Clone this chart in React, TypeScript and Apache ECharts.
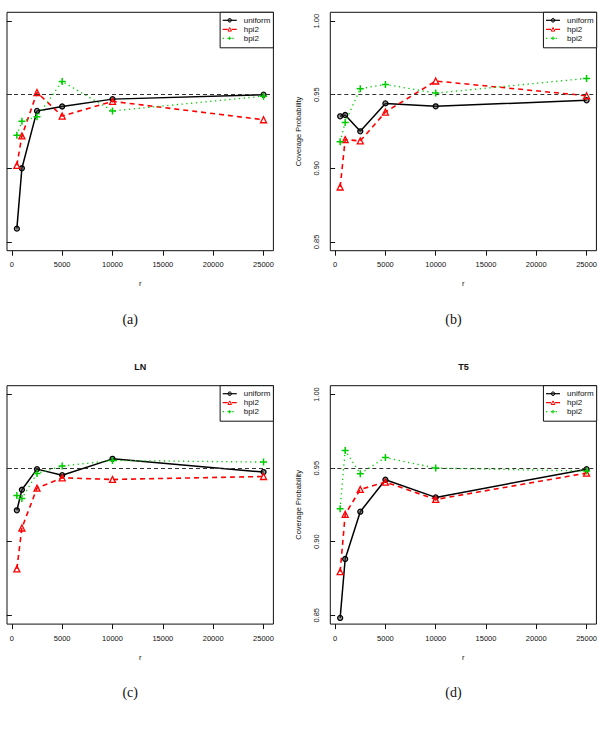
import React, { useEffect, useRef } from "react";
import * as echarts from "echarts";

// ---- data ----
const sampleSizes = [500, 1000, 2500, 5000, 10000, 25000];
const xTicks = [0, 5000, 10000, 15000, 20000, 25000];
const yTicks = [0.85, 0.9, 0.95, 1.0];
const seriesNames = ["uniform", "hpi2", "bpi2"];
const panelTitles = ["", "", "LN", "T5"];
const panelTags = ["(a)", "(b)", "(c)", "(d)"];
const nominalLevel = 0.95;

// panel (a)
const uniformA = [0.859, 0.9, 0.939, 0.942, 0.947, 0.95];
const hpi2A = [0.902, 0.922, 0.9515, 0.9355, 0.9455, 0.933];
const bpi2A = [0.9225, 0.932, 0.935, 0.959, 0.939, 0.949];
// panel (b)
const uniformB = [0.9353, 0.9362, 0.9251, 0.9441, 0.9421, 0.9462];
const hpi2B = [0.8873, 0.9195, 0.9186, 0.9382, 0.9593, 0.9493];
const bpi2B = [0.9181, 0.9312, 0.9541, 0.957, 0.9511, 0.9611];
// panel (c) LN
const uniformC = [0.9213, 0.9353, 0.9493, 0.9452, 0.9563, 0.9473];
const hpi2C = [0.8815, 0.9093, 0.9364, 0.9434, 0.9423, 0.9443];
const bpi2C = [0.9314, 0.9294, 0.9464, 0.9514, 0.9552, 0.9541];
// panel (d) T5
const uniformD = [0.8482, 0.8882, 0.9204, 0.9421, 0.9301, 0.9493];
const hpi2D = [0.8796, 0.9186, 0.9355, 0.9405, 0.9287, 0.9466];
const bpi2D = [0.9224, 0.962, 0.9462, 0.9572, 0.95, 0.948];

const panelData = [
  [uniformA, hpi2A, bpi2A],
  [uniformB, hpi2B, bpi2B],
  [uniformC, hpi2C, bpi2C],
  [uniformD, hpi2D, bpi2D],
];

// ---- layout ----
const W = 266.4;
const H = 238.4;
const gridPos = [
  { left: 7, top: 12.3 },
  { left: 330.3, top: 12.3 },
  { left: 7, top: 385.7 },
  { left: 330.3, top: 385.7 },
];
const FONT = "Liberation Sans, Arial, sans-serif";
const GREEN = "#00cd00";

export default function App() {
  const ref = useRef<HTMLDivElement>(null);
  useEffect(() => {
    if (!ref.current) return;
    const chart = echarts.init(ref.current, null, { renderer: "svg" });

    const grid = gridPos.map((g) => ({
      left: g.left,
      top: g.top,
      width: W,
      height: H,
      show: true,
      borderColor: "#111",
      borderWidth: 1,
      backgroundColor: "transparent",
      containLabel: false,
    }));

    const xAxis = gridPos.map((_, i) => ({
      type: "value",
      gridIndex: i,
      min: -480,
      max: 25980,
      axisLine: { show: false },
      splitLine: { show: false },
      axisTick: { show: true, length: 5, customValues: xTicks, lineStyle: { color: "#111", width: 1 } },
      axisLabel: {
        customValues: xTicks,
        fontSize: 7.5,
        fontFamily: FONT,
        color: "#111",
        margin: 10,
        formatter: (v: number) => String(v),
      },
      name: "r",
      nameLocation: "middle",
      nameGap: 29,
      nameTextStyle: { fontSize: 7.5, fontFamily: FONT, color: "#111" },
    }));

    const yAxis = gridPos.map((_, i) => {
      const showLabels = i % 2 === 1;
      return {
        type: "value",
        gridIndex: i,
        min: 0.844,
        max: 1.006,
        axisLine: { show: false },
        splitLine: { show: false },
        axisTick: { show: true, length: 5, customValues: yTicks, lineStyle: { color: "#111", width: 1 } },
        axisLabel: {
          show: showLabels,
          customValues: yTicks,
          rotate: 90,
          fontSize: 7.5,
          fontFamily: FONT,
          color: "#111",
          margin: 10,
          formatter: (v: number) => v.toFixed(2),
        },
        name: showLabels ? "Coverage Probability" : "",
        nameLocation: "middle",
        nameGap: 28,
        nameTextStyle: { fontSize: 7.5, fontFamily: FONT, color: "#111" },
      };
    });

    const series: any[] = [];
    panelData.forEach((vals, p) => {
      const [u, h, b] = vals;
      series.push({
        name: seriesNames[0],
        type: "line",
        xAxisIndex: p,
        yAxisIndex: p,
        data: sampleSizes.map((x, k) => [x, u[k]]),
        symbol: "circle",
        symbolSize: 5,
        lineStyle: { color: "#000", width: 1.5, type: "solid" },
        itemStyle: { color: "rgba(60,60,60,0.5)", borderColor: "#000", borderWidth: 1.3 },
        z: 3,
        markLine: {
          silent: true,
          symbol: "none",
          label: { show: false },
          lineStyle: { color: "#333", type: [4, 3], width: 1 },
          data: [{ yAxis: nominalLevel }],
        },
      });
      series.push({
        name: seriesNames[1],
        type: "line",
        xAxisIndex: p,
        yAxisIndex: p,
        data: sampleSizes.map((x, k) => [x, h[k]]),
        symbol: "triangle",
        symbolSize: 6,
        lineStyle: { color: "#ff0000", width: 1.6, type: [5, 4] },
        itemStyle: { color: "rgba(0,0,0,0)", borderColor: "#ff0000", borderWidth: 1.3 },
        z: 4,
      });
      series.push({
        name: seriesNames[2],
        type: "line",
        xAxisIndex: p,
        yAxisIndex: p,
        data: sampleSizes.map((x, k) => [x, b[k]]),
        symbol: "path://M5 0L5 10M0 5L10 5",
        symbolSize: 7,
        lineStyle: { color: GREEN, width: 1.3, type: [1.3, 3.5] },
        itemStyle: { color: "rgba(0,0,0,0)", borderColor: GREEN, borderWidth: 1.5 },
        z: 5,
      });
    });

    const legend = gridPos.map((g) => ({
      orient: "vertical",
      right: 600 - (g.left + W),
      top: g.top,
      data: seriesNames,
      selectedMode: false,
      backgroundColor: "#fff",
      borderColor: "#111",
      borderWidth: 1,
      borderRadius: 0,
      padding: [3.5, 3, 5, 2],
      itemWidth: 14,
      itemHeight: 4.5,
      itemGap: 0,
      itemStyle: { borderWidth: 1 },
      lineStyle: { width: 1.2 },
      textStyle: { fontSize: 8, lineHeight: 9, fontFamily: FONT, color: "#111", padding: [0, 0, 0, 2] },
    }));

    const graphicEls: any[] = [];
    gridPos.forEach((g, i) => {
      const cx = g.left + W / 2;
      if (panelTitles[i]) {
        graphicEls.push({
          type: "text",
          x: cx,
          y: g.top - 18.5,
          style: {
            text: panelTitles[i],
            fontSize: 9,
            fontWeight: "bold",
            fontFamily: FONT,
            fill: "#111",
            textAlign: "center",
            textVerticalAlign: "middle",
          },
        });
      }
      graphicEls.push({
        type: "text",
        x: cx - 10,
        y: g.top + H + 68.5,
        style: {
          text: panelTags[i],
          fontSize: 14,
          fontFamily: "Liberation Serif, serif",
          fill: "#111",
          textAlign: "center",
          textVerticalAlign: "middle",
        },
      });
    });

    chart.setOption({
      animation: false,
      backgroundColor: "#fff",
      grid,
      xAxis,
      yAxis,
      legend,
      series,
      graphic: graphicEls,
    });
    return () => chart.dispose();
  }, []);
  return (
    <div
      ref={ref}
      style={{ position: "absolute", left: 0, top: 0, width: 600, height: 735 }}
    />
  );
}
